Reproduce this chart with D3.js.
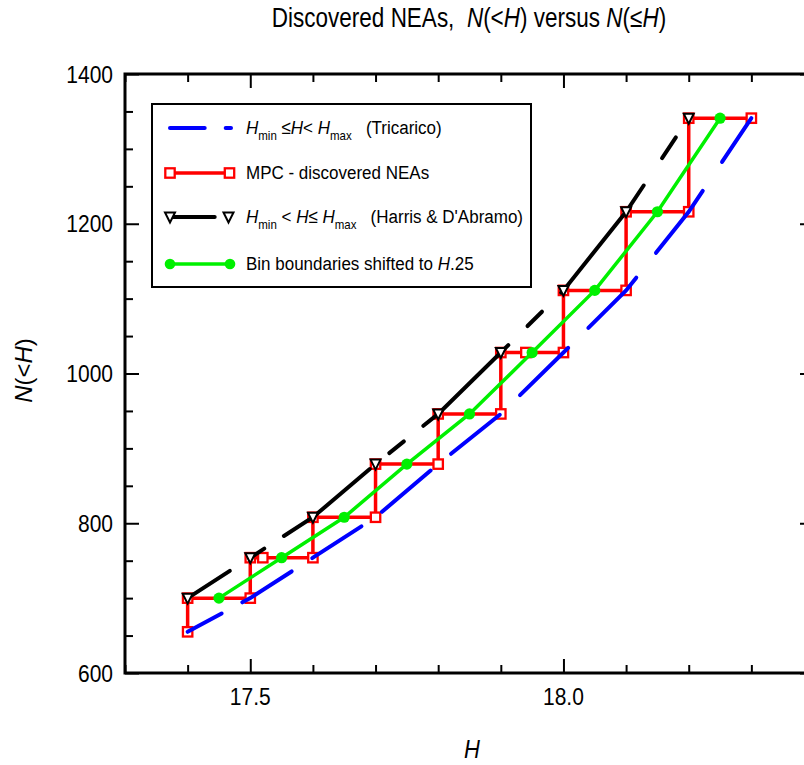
<!DOCTYPE html>
<html><head><meta charset="utf-8">
<script src="https://cdn.jsdelivr.net/npm/d3@7"></script>
<style>
body{margin:0;background:#fff}
svg{display:block}
text{font-family:"Liberation Sans",Arial,Helvetica,sans-serif;fill:#000;white-space:pre}
</style>
</head><body>
<svg id="c" width="804" height="765"></svg>
<script>
// ---------- data ----------
const hBins      = [17.4,17.5,17.6,17.7,17.8,17.9,18.0,18.1,18.2,18.3];
const tricaricoN = [655,700,754,808,879,946,1028,1111,1216,1341];
const harrisH    = [17.4,17.5,17.6,17.7,17.8,17.9,18.0,18.1,18.2];
const harrisN    = [700,754,808,879,946,1028,1111,1216,1341];
const mpcH       = [17.4,17.4,17.5,17.5,17.52,17.6,17.6,17.7,17.7,17.8,17.8,17.9,17.9,17.94,18.0,18.0,18.1,18.1,18.2,18.2,18.3];
const mpcN       = [655,700,700,754,754,754,808,808,879,879,946,946,1028,1028,1028,1111,1111,1216,1216,1341,1341];
const shiftedH   = [17.45,17.55,17.65,17.75,17.85,17.95,18.05,18.15,18.25];
const shiftedN   = [700,754,808,879,946,1028,1111,1216,1341];
const xMajorTicks = [17.5,18.0];
const xMinorTicks = [17.3,17.4,17.6,17.7,17.8,17.9,18.1,18.2,18.3,18.4];
const yMajorTicks = [600,800,1000,1200,1400];
const yMinorTicks = [650,700,750,850,900,950,1050,1100,1150,1250,1300,1350];
const xDomain = [17.3,18.4];
const yDomain = [600,1400];

// ---------- setup ----------
const svg = d3.select('#c');
const L=125, R=814, T=74, B=673;
const x = d3.scaleLinear().domain(xDomain).range([L,R]);
const y = d3.scaleLinear().domain(yDomain).range([B,T]);
const SY = 1.13; // vertical glyph stretch of the original

const BLUE='#0000ff', RED='#ff0000', GREEN='#00f000', BLACK='#000';

function txt(parent, px, py, size, anchor, build, rot, sx, sy){
  const g = parent.append('g').attr('transform',
    `translate(${px},${py})` + (rot?` rotate(${rot})`:'') + ` scale(${sx||1},${sy||SY})`);
  const t = g.append('text').attr('font-size',size).attr('text-anchor',anchor||'start');
  if (typeof build === 'string') t.text(build); else build(t);
  return t;
}
function span(t, s, opt){
  const sp = t.append('tspan').text(s);
  if(opt){ for(const k in opt) sp.attr(k,opt[k]); }
  return sp;
}

// custom dashing: walks along the screen polyline with a vertically-compressed metric
function dashify(pts, pattern, phase, k){
  let pi=0, left=pattern[0], p=phase;
  while(p>0){ if(p>=left){p-=left; pi=(pi+1)%pattern.length; left=pattern[pi];} else {left-=p; p=0;} }
  let on = pi%2===0;
  const segs=[]; let cur = on ? [pts[0]] : null;
  for(let i=0;i<pts.length-1;i++){
    const a=pts[i], b=pts[i+1];
    const dx=b[0]-a[0], dy=b[1]-a[1];
    const m=Math.sqrt(dx*dx+(dy/k)*(dy/k));
    let t=0;
    while(m - t > left){
      t += left;
      const q=[a[0]+dx*t/m, a[1]+dy*t/m];
      if(on){ cur.push(q); segs.push(cur); cur=null; } else { cur=[q]; }
      on=!on; pi=(pi+1)%pattern.length; left=pattern[pi];
    }
    left -= (m - t);
    if(on) cur.push(b);
  }
  if(on && cur && cur.length>1) segs.push(cur);
  return segs;
}
const line = d3.line();
function drawDashed(parent, pts, pattern, phase, color, w){
  dashify(pts, pattern, phase, 3.5).forEach(s=>{
    parent.append('path').attr('d', line(s)).attr('fill','none')
      .attr('stroke',color).attr('stroke-width',w).attr('stroke-linecap','round');
  });
}
const BLUE_DASH=[50,21], BLUE_PHASE=15.6;
const BLACK_DASH=[88,20,15,20], BLACK_PHASE=45.1;

// ---------- title ----------
txt(svg, 469, 27, 22.5, 'middle', t=>{
  span(t,'Discovered NEAs,  ');
  span(t,'N',{'font-style':'italic'});
  span(t,'(<');
  span(t,'H',{'font-style':'italic'});
  span(t,') versus ');
  span(t,'N',{'font-style':'italic'});
  span(t,'(\u2264');
  span(t,'H',{'font-style':'italic'});
  span(t,')');
}, 0, 1, 1.2);

// ---------- data layers ----------
const plot = svg.append('g');

// MPC staircase
const mpcPts = mpcH.map((h,i)=>[x(h), y(mpcN[i])]);
plot.append('path').attr('d', line(mpcPts)).attr('fill','none')
  .attr('stroke',RED).attr('stroke-width',3.5).attr('stroke-linejoin','miter');
plot.selectAll('rect.mpc').data(mpcPts).enter().append('rect').attr('class','mpc')
  .attr('x',d=>d[0]-4.7).attr('y',d=>d[1]-4.7).attr('width',9.4).attr('height',9.4)
  .attr('fill','#fff').attr('stroke',RED).attr('stroke-width',2.3);

// Tricarico (blue dashed)
const triPts = hBins.map((h,i)=>[x(h), y(tricaricoN[i])]);
drawDashed(plot, triPts, BLUE_DASH, BLUE_PHASE, BLUE, 4);

// Harris & D'Abramo (black dashed + triangles)
const harPts = harrisH.map((h,i)=>[x(h), y(harrisN[i])]);
drawDashed(plot, harPts, BLACK_DASH, BLACK_PHASE, BLACK, 4);
const tri = d=>`M${d[0]-5},${d[1]-4.5}L${d[0]+5},${d[1]-4.5}L${d[0]},${d[1]+5.5}Z`;
plot.selectAll('path.tri').data(harPts).enter().append('path').attr('class','tri')
  .attr('d',tri).attr('fill','#fff').attr('stroke',BLACK).attr('stroke-width',2);

// shifted bins (green)
const grnPts = shiftedH.map((h,i)=>[x(h), y(shiftedN[i])]);
plot.append('path').attr('d', line(grnPts)).attr('fill','none')
  .attr('stroke',GREEN).attr('stroke-width',3.5);
plot.selectAll('circle.g').data(grnPts).enter().append('circle').attr('class','g')
  .attr('cx',d=>d[0]).attr('cy',d=>d[1]).attr('r',5.6).attr('fill',GREEN);

// ---------- axes ----------
const ax = svg.append('g');
function styleAxis(g){ g.select('.domain').remove(); g.selectAll('line').attr('stroke','#000').attr('stroke-width',2); g.selectAll('text').remove(); }
ax.append('g').attr('transform',`translate(0,${B})`).call(d3.axisBottom(x).tickValues(xMinorTicks).tickSize(-8).tickFormat('')).call(styleAxis);
ax.append('g').attr('transform',`translate(0,${B})`).call(d3.axisBottom(x).tickValues(xMajorTicks).tickSize(-14).tickFormat('')).call(styleAxis);
ax.append('g').attr('transform',`translate(0,${T})`).call(d3.axisTop(x).tickValues(xMinorTicks).tickSize(-8).tickFormat('')).call(styleAxis);
ax.append('g').attr('transform',`translate(0,${T})`).call(d3.axisTop(x).tickValues(xMajorTicks).tickSize(-14).tickFormat('')).call(styleAxis);
ax.append('g').attr('transform',`translate(${L},0)`).call(d3.axisLeft(y).tickValues(yMinorTicks).tickSize(-8).tickFormat('')).call(styleAxis);
ax.append('g').attr('transform',`translate(${L},0)`).call(d3.axisLeft(y).tickValues(yMajorTicks).tickSize(-14).tickFormat('')).call(styleAxis);
ax.append('g').attr('transform',`translate(${R},0)`).call(d3.axisRight(y).tickValues(yMinorTicks).tickSize(-8).tickFormat('')).call(styleAxis);
ax.append('g').attr('transform',`translate(${R},0)`).call(d3.axisRight(y).tickValues(yMajorTicks).tickSize(-14).tickFormat('')).call(styleAxis);
ax.append('rect').attr('x',L).attr('y',T).attr('width',R-L).attr('height',B-T)
  .attr('fill','none').attr('stroke','#000').attr('stroke-width',3);

// tick labels
const fmtX = d3.format('.1f');
xMajorTicks.forEach(v=> txt(svg, x(v), B+32, 21, 'middle', fmtX(v)));
yMajorTicks.forEach(v=> txt(svg, L-12, y(v)+8.5, 21, 'end', String(v)));

// axis titles
txt(svg, 472, 758, 22, 'middle', t=>span(t,'H',{'font-style':'italic'}));
txt(svg, 32, 370.5, 24, 'middle', t=>{
  span(t,'N',{'font-style':'italic'}); span(t,'(<'); span(t,'H',{'font-style':'italic'}); span(t,')');
}, -90, 1, 1);

// ---------- legend ----------
const lg = svg.append('g');
lg.append('rect').attr('x',152).attr('y',104).attr('width',379).attr('height',183)
  .attr('fill','#fff').attr('stroke','#000').attr('stroke-width',2);
const LX0=170, LX1=230, TX=246;
const rowY=[128,173,217,264];
// row 1 blue
drawDashed(lg, [[LX0,rowY[0]],[LX1+1,rowY[0]]], BLUE_DASH, 15.3, BLUE, 4);
// row 2 red
lg.append('path').attr('d',line([[LX0,rowY[1]],[LX1,rowY[1]]])).attr('stroke',RED).attr('stroke-width',3.5);
[LX0,LX1-0.5].forEach(px=> lg.append('rect').attr('x',px-4.7).attr('y',rowY[1]-4.7).attr('width',9.4).attr('height',9.4)
  .attr('fill','#fff').attr('stroke',RED).attr('stroke-width',2.3));
// row 3 black
drawDashed(lg, [[LX0,rowY[2]],[LX1-1.5,rowY[2]]], BLACK_DASH, 43.3, BLACK, 4);
[LX0,LX1-1.5].forEach(px=> lg.append('path').attr('d',tri([px,rowY[2]])).attr('fill','#fff').attr('stroke',BLACK).attr('stroke-width',2));
// row 4 green
lg.append('path').attr('d',line([[LX0,rowY[3]],[LX1,rowY[3]]])).attr('stroke',GREEN).attr('stroke-width',3.5);
[LX0,LX1].forEach(px=> lg.append('circle').attr('cx',px).attr('cy',rowY[3]).attr('r',5.3).attr('fill',GREEN));

const LF=17, SF=11.5;
txt(lg, TX, rowY[0]+6, LF, 'start', t=>{
  span(t,'H',{'font-style':'italic'}); span(t,'min',{'font-size':SF,dy:5});
  span(t,' \u2264',{dy:-5}); span(t,'H',{'font-style':'italic'}); span(t,'< ');
  span(t,'H',{'font-style':'italic'}); span(t,'max',{'font-size':SF,dy:5});
  span(t,'   (Tricarico)',{dy:-5});
});
txt(lg, TX, rowY[1]+6, LF, 'start', 'MPC - discovered NEAs');
txt(lg, TX, rowY[2]+6, LF, 'start', t=>{
  span(t,'H',{'font-style':'italic'}); span(t,'min',{'font-size':SF,dy:5});
  span(t,' < ',{dy:-5}); span(t,'H',{'font-style':'italic'}); span(t,'\u2264 ');
  span(t,'H',{'font-style':'italic'}); span(t,'max',{'font-size':SF,dy:5});
  span(t,'   (Harris & D\'Abramo)',{dy:-5});
});
txt(lg, TX, rowY[3]+6, LF, 'start', t=>{
  span(t,'Bin boundaries shifted to '); span(t,'H',{'font-style':'italic'}); span(t,'.25');
});
</script>
</body></html>
